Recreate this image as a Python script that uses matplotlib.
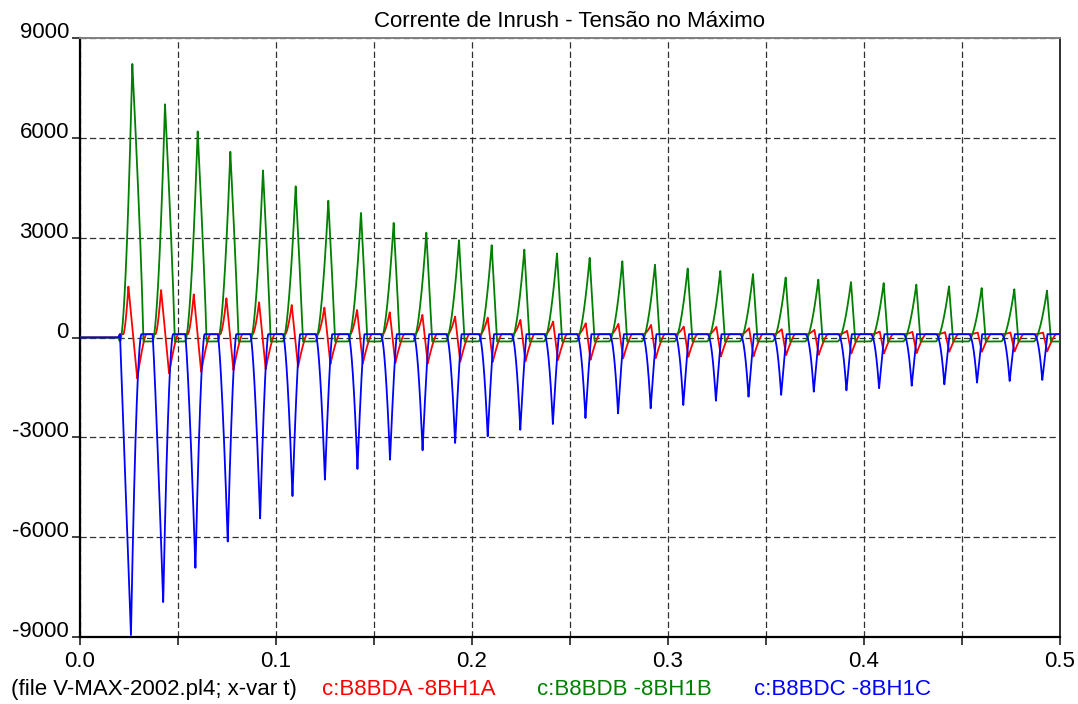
import numpy as np
import matplotlib
matplotlib.use("Agg")
import matplotlib.pyplot as plt
from matplotlib.ticker import FixedLocator, FuncFormatter

# ---------------- data ----------------
period = 1.0 / 60.0           # 60 Hz
t_switch = 0.0195             # energisation instant (s)

# phase B (green): positive peak of every cycle (A)
green_peaks = [8220, 7020, 6200, 5580, 5030, 4550, 4110, 3750, 3450, 3150,
               2930, 2780, 2640, 2530, 2400, 2290, 2190, 2080, 2000, 1910,
               1810, 1740, 1670, 1640, 1590, 1540, 1490, 1450, 1410]
# phase C (blue): negative trough of every cycle (A)
blue_troughs = [-8940, -7970, -6935, -6135, -5450, -4780, -4280, -3950, -3680,
                -3400, -3180, -2980, -2780, -2600, -2430, -2280, -2130, -2030,
                -1900, -1780, -1730, -1630, -1590, -1530, -1450, -1410, -1360,
                -1310, -1280]
# phase A (red): positive peak and negative trough of every cycle (A)
red_peaks = [1530, 1430, 1300, 1180, 1060, 980, 900, 830, 760, 680,
             630, 600, 530, 480, 430, 410, 380, 330, 320, 280,
             250, 230, 200, 180, 170, 160, 150, 150, 150]
red_troughs = [-1230, -1080, -1030, -980, -950, -880, -800, -780, -770, -780,
               -730, -730, -720, -680, -670, -630, -620, -580, -570, -570,
               -530, -520, -480, -480, -470, -430, -430, -420, -420]
# small steady levels between the pulses (A)
green_base, blue_base, red_base = -120, 100, 100

legend_labels = ["c:B8BDA -8BH1A", "c:B8BDB -8BH1B", "c:B8BDC -8BH1C"]
colors = ["#ff0000", "#008000", "#0000ff"]
title = "Corrente de Inrush - Tensão no Máximo"
file_label = "(file V-MAX-2002.pl4; x-var t)"
y_ticks = [-9000, -6000, -3000, 0, 3000, 6000, 9000]
x_ticks = np.round(np.arange(0, 0.5001, 0.05), 3)

# ---------------- waveform construction ----------------
t = np.linspace(0.0, 0.5, 25001)
ramp = np.clip((t - t_switch) / 0.0008, 0, 1)


def lerp(late, early, f):
    return late + (early - late) * f


def add_pulse(y, tp, amp, wl, wr, pl, pr):
    m1 = (t >= tp - wl) & (t < tp)
    y[m1] += amp * ((t[m1] - (tp - wl)) / wl) ** pl
    m2 = (t >= tp) & (t < tp + wr)
    y[m2] += amp * (1 - (t[m2] - tp) / wr) ** pr


g = green_base * ramp
b = blue_base * ramp
r = red_base * ramp

G = np.array(green_peaks, float)
B = np.array(blue_troughs, float)
for k in range(len(G)):
    fg = (G[k] - G[-1]) / (G[0] - G[-1])
    add_pulse(g, k * period + 0.0267, G[k] - green_base,
              lerp(0.0068, 0.0063, fg), lerp(0.0020, 0.0056, fg),
              lerp(1.7, 1.8, fg), lerp(1.0, 0.8, fg))
    fb = (B[k] - B[-1]) / (B[0] - B[-1])
    add_pulse(b, k * period + lerp(0.0243, 0.0260, fb), B[k] - blue_base,
              lerp(0.0043, 0.0056, fb), lerp(0.0026, 0.0054, fb),
              lerp(2.2, 1.0, fb), lerp(1.0, 1.85, fb))
    # red: rise to peak, straight fall to trough, recovery to base
    tp = k * period + 0.0247
    tt = k * period + lerp(0.0268, 0.0292, fg)
    wl = lerp(0.0040, 0.0026, fg)
    rp, rt = red_peaks[k], red_troughs[k]
    m = (t >= tp - wl) & (t < tp)
    r[m] = red_base + (rp - red_base) * ((t[m] - (tp - wl)) / wl) ** 1.6
    m = (t >= tp) & (t < tt)
    r[m] = rp + (rt - rp) * (t[m] - tp) / (tt - tp)
    m = (t >= tt) & (t < tt + 0.0045)
    r[m] = red_base + (rt - red_base) * (1 - (t[m] - tt) / 0.0045) ** 1.3

# ---------------- plotting ----------------
plt.rcParams["font.family"] = ["Liberation Sans", "DejaVu Sans"]
fs = 16
fig = plt.figure(figsize=(10.78, 7.04), dpi=100)
ax = fig.add_axes([80 / 1078, 1 - 637 / 704, 980 / 1078, 599 / 704])

for yy, c in zip([r, g, b], colors):
    ax.plot(t, yy, color=c, lw=1.3, zorder=3)

ax.set_xlim(0, 0.5)
ax.set_ylim(-9000, 9000)

ax.xaxis.set_major_locator(FixedLocator(x_ticks))
ax.xaxis.set_major_formatter(FuncFormatter(
    lambda v, p: f"{v:.1f}" if abs(round(v * 10) - v * 10) < 1e-6 else ""))
ax.yaxis.set_major_locator(FixedLocator(y_ticks))
ax.yaxis.set_major_formatter(FuncFormatter(lambda v, p: f"{int(v)}"))

ax.grid(True, color="#303030", lw=0.9, linestyle=(0, (5, 2.6)), zorder=1)
ax.tick_params(axis="x", direction="out", length=6, width=1.2, pad=4,
               labelsize=fs, color="#202020")
ax.tick_params(axis="y", direction="out", length=6, width=1.2, pad=2,
               labelsize=fs, color="#202020")
for lab in ax.get_yticklabels():
    lab.set_va("baseline")

ax.spines["left"].set_linewidth(1.6)
ax.spines["left"].set_color("black")
ax.spines["bottom"].set_linewidth(1.6)
ax.spines["bottom"].set_color("black")
ax.spines["top"].set_linewidth(1.4)
ax.spines["top"].set_color("#808080")
ax.spines["right"].set_linewidth(1.4)
ax.spines["right"].set_color("#303030")

fig.text(570 / 1078, 1 - 27 / 704, title, ha="center", va="baseline",
         fontsize=fs)

yb = 1 - 695 / 704
fig.text(11 / 1078, yb, file_label, ha="left", va="baseline", fontsize=fs)
for x0, lab, c in zip([322, 537, 754], legend_labels, colors):
    fig.text(x0 / 1078, yb, lab, ha="left", va="baseline", fontsize=fs,
             color=c)

fig.savefig("out.png", dpi=100)
